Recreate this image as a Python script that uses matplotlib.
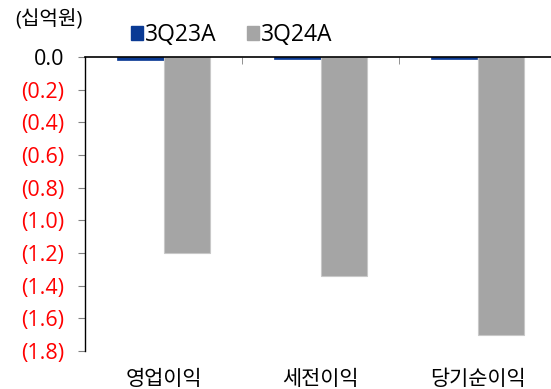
import numpy as np
import matplotlib.pyplot as plt
from matplotlib.patches import Patch

plt.rcParams['font.family'] = ['Open Sans', 'Noto Sans CJK KR']

# data (십억원)
categories = ['영업이익', '세전이익', '당기순이익']
q23 = [-0.02, -0.015, -0.01]
q24 = [-1.20, -1.34, -1.70]
yticks = [0.0, -0.2, -0.4, -0.6, -0.8, -1.0, -1.2, -1.4, -1.6, -1.8]

blue = '#0A3A94'
gray = '#A5A5A5'

fig = plt.figure(figsize=(5.51, 3.89), dpi=100)
ax = fig.add_axes([85/551, 1-351/389, 471/551, 294/389])

x = np.arange(len(categories))
w = 0.293
ax.bar(x - w/2, q23, w, color=blue, edgecolor=blue, linewidth=0.5)
ax.bar(x + w/2, q24, w, color=gray, edgecolor='#C8C8C8', linewidth=0.8)

ax.set_xlim(-0.5, 2.5)
ax.set_ylim(-1.8, 0.0)

for s in ['right', 'bottom']:
    ax.spines[s].set_visible(False)
ax.spines['left'].set_color('black')
ax.spines['top'].set_color('black')
ax.spines['left'].set_linewidth(1.0)
ax.spines['top'].set_linewidth(1.2)

# y axis: negatives in red with parentheses
ax.set_yticks(yticks)
labels = ['0.0' if v == 0 else '({:.1f})'.format(abs(v)) for v in yticks]
ax.set_yticklabels(labels, fontsize=15.5)
for lab, v in zip(ax.get_yticklabels(), yticks):
    lab.set_color('black' if v == 0 else '#FF0000')
ax.tick_params(axis='y', length=5, color='#808080', pad=10)

# category labels under the plot, separator ticks on the zero line
ax.set_xticks(x)
ax.set_xticklabels(categories, fontsize=15)
ax.tick_params(axis='x', which='major', length=0, pad=13)
ax.set_xticks([0.5, 1.5], minor=True)
ax.tick_params(axis='x', which='minor', top=True, bottom=False,
               direction='in', length=5, color='#808080')

fig.text(15/551, 1-20/389, '(십억원)', fontsize=14.5, va='center', ha='left')

handles = [Patch(facecolor=blue, edgecolor=blue), Patch(facecolor=gray, edgecolor=gray)]
fig.legend(handles, ['3Q23A', '3Q24A'], loc='center left',
           bbox_to_anchor=(131/551, 1-35/389), ncol=2, frameon=False,
           fontsize=16.5, handlelength=0.53, handleheight=0.53,
           handletextpad=0.1, columnspacing=1.3, borderaxespad=0,
           borderpad=0)

fig.savefig('out.png', dpi=100)
